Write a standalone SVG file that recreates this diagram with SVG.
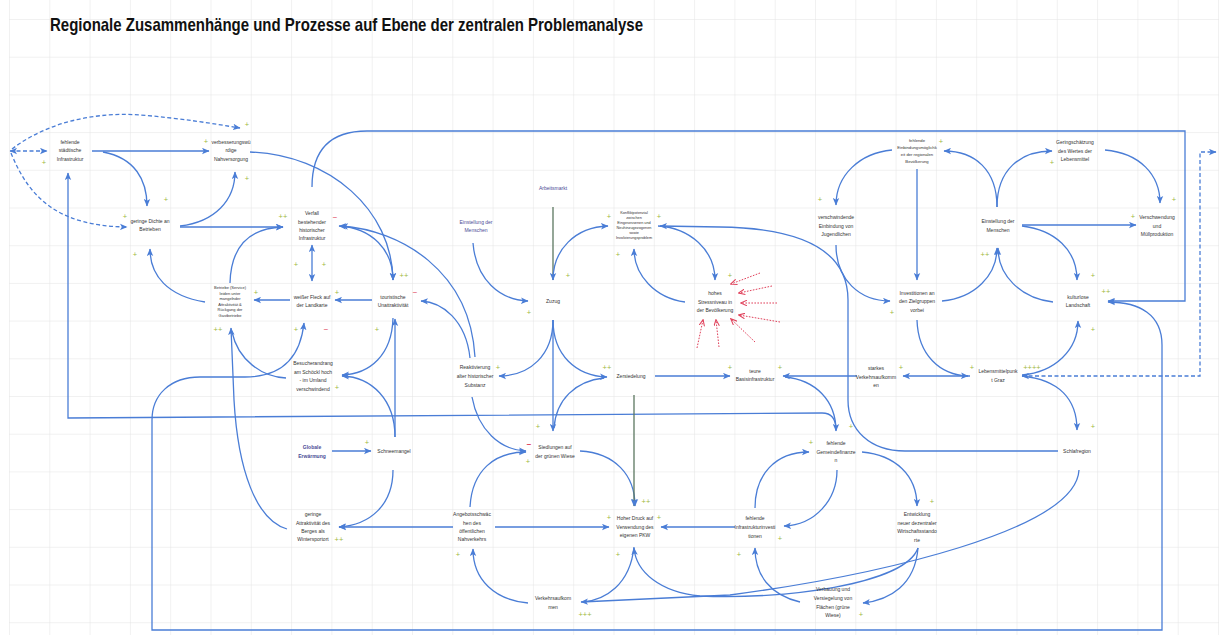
<svg xmlns="http://www.w3.org/2000/svg" width="1219" height="635" viewBox="0 0 1219 635">
<defs>
<pattern id="grid" x="9" y="19" width="40.3" height="37.7" patternUnits="userSpaceOnUse">
<path d="M0,0 V37.7 M0,0 H40.3" fill="none" stroke="#e3e3e3" stroke-width="1"/>
</pattern>
<marker id="a" viewBox="0 0 8 7" refX="7" refY="3.5" markerWidth="8" markerHeight="7" markerUnits="userSpaceOnUse" orient="auto-start-reverse">
<path d="M0,0.3 L7.5,3.5 L0,6.7 L1.8,3.5 z" fill="#4a7dd6"/>
</marker>
<marker id="ag" viewBox="0 0 8 7" refX="7" refY="3.5" markerWidth="8" markerHeight="7" markerUnits="userSpaceOnUse" orient="auto-start-reverse">
<path d="M0,0.3 L7.5,3.5 L0,6.7 L1.8,3.5 z" fill="#4a7dd6"/>
</marker>
<marker id="ar" viewBox="0 0 8 7" refX="7" refY="3.5" markerWidth="7" markerHeight="6" markerUnits="userSpaceOnUse" orient="auto">
<path d="M0,0.3 L7.5,3.5 L0,6.7" fill="none" stroke="#e0405a" stroke-width="1.2"/>
</marker>
</defs>
<style>
.c{fill:none;stroke:#4a7dd6;stroke-width:1.3;marker-end:url(#a)}
.n{fill:none;stroke:#4a7dd6;stroke-width:1.3}
.b{fill:none;stroke:#4a7dd6;stroke-width:1.3;marker-start:url(#a);marker-end:url(#a)}
.d{fill:none;stroke:#4a7dd6;stroke-width:1.3;stroke-dasharray:4 2.5;marker-end:url(#a)}
.g{fill:none;stroke:#5b7760;stroke-width:1.3;marker-end:url(#ag)}
.r{fill:none;stroke:#e0405a;stroke-width:1;stroke-dasharray:1.6 1.4;marker-end:url(#ar)}
text{font-family:"Liberation Sans",Arial,sans-serif}
.t{font-size:5px;fill:#333;text-anchor:middle}
.s{font-size:4px;fill:#333;text-anchor:middle}
.p{font-size:5px;fill:#4b4b96;text-anchor:middle}
.pl{font-size:7.5px;fill:#9fb83c;text-anchor:middle}
.mi{font-size:8px;fill:#e0405a;text-anchor:middle}
</style>
<rect x="0" y="0" width="1219" height="635" fill="#ffffff"/>
<rect x="9" y="0" width="1210" height="635" fill="url(#grid)"/>
<text x="50" y="31" font-size="19" font-weight="bold" fill="#111" textLength="593" lengthAdjust="spacingAndGlyphs">Regionale Zusammenhänge und Prozesse auf Ebene der zentralen Problemanalyse</text>

<g id="connectors">
<path class="c" d="M92,151 H209"/>
<path class="c" d="M103,152 C135,158 147,180 147,206"/>
<path class="c" d="M180,226 C215,222 235,200 235,172"/>
<path class="c" d="M180,227 H283"/>
<path class="c" d="M205,302 C168,296 150,276 150,249"/>
<path class="c" d="M230,283 C231,245 250,228 283,227"/>
<path class="c" d="M287,529 C256,520 238,470 234,400 L231,328"/>
<path class="n" d="M232,332 C238,360 262,377 286,378"/>
<path class="b" d="M304,323 C300,360 280,377 245,377 H200 C170,377 152,395 152,420 V630 H1162 V345 C1162,315 1140,302 1108,302"/>
<path class="b" d="M312,245 V281"/>
<path class="c" d="M290,300 H254"/>
<path class="c" d="M372,300 H335"/>
<path class="c" d="M250,152 C330,155 392,210 393,280"/>
<path class="b" d="M339,226 C372,228 393,250 393,280"/>
<path class="c" d="M475,357 C470,270 400,230 341,226"/>
<path class="c" d="M470,358 C466,320 442,302 421,301"/>
<path class="c" d="M312,187 C312,150 330,131 367,131 H1185 V301 H1108"/>
<path class="c" d="M393,318 C392,355 370,374 342,375"/>
<path class="c" d="M395,437 C395,400 372,377 342,376"/>
<path class="c" d="M395,437 V319"/>
<path class="c" d="M836,430 C836,420 832,413 822,413 L68,418 V173"/>
<path class="c" d="M785,377 C815,380 836,400 836,431"/>
<path class="c" d="M553,320 C553,355 530,376 499,376"/>
<path class="c" d="M553,320 C553,355 576,376 607,377"/>
<path class="c" d="M553,320 V431"/>
<path class="n" d="M604,378 C575,381 556,400 554,428"/>
<path class="g" d="M553,207 V280"/>
<path class="c" d="M473,243 C476,280 500,300 528,301"/>
<path class="c" d="M553,280 C553,250 575,227 608,226"/>
<path class="c" d="M685,302 C655,298 634,275 634,249"/>
<path class="c" d="M658,226 C690,228 715,250 715,280"/>
<path class="c" d="M1058,451 H905 C870,451 848,430 848,400 V300 C848,250 800,228 720,227 L660,226"/>
<path class="c" d="M655,376 H730"/>
<path class="c" d="M857,376 H783"/>
<path class="c" d="M970,376 H903"/>
<path class="c" d="M917,320 C918,355 940,375 968,376"/>
<path class="c" d="M1022,375 C1055,372 1078,350 1078,321"/>
<path class="c" d="M1022,376 C1060,380 1077,400 1077,430"/>
<path class="c" d="M942,301 C975,298 997,275 997,248"/>
<path class="c" d="M1053,302 C1020,298 998,275 998,248"/>
<path class="c" d="M997,207 C997,170 975,151 944,151"/>
<path class="c" d="M997,207 C997,170 1020,151 1052,151"/>
<path class="c" d="M1105,150 C1140,153 1160,175 1160,203"/>
<path class="c" d="M1022,225 H1136"/>
<path class="c" d="M1022,226 C1055,230 1077,250 1077,280"/>
<path class="c" d="M892,150 C860,153 836,175 836,205"/>
<path class="c" d="M917,169 V280"/>
<path class="c" d="M836,245 C836,280 860,301 890,301"/>
<path class="c" d="M862,452 C895,455 917,475 917,506"/>
<path class="c" d="M837,470 C837,500 815,525 784,526"/>
<path class="c" d="M755,508 C755,475 775,452 809,452"/>
<path class="c" d="M735,527 H661"/>
<path class="c" d="M495,527 H609"/>
<path class="c" d="M453,527 H339"/>
<path class="c" d="M393,470 C393,505 370,525 339,527"/>
<path class="c" d="M332,451 H371"/>
<path class="c" d="M528,603 C495,600 473,580 473,549"/>
<path class="c" d="M470,507 C472,470 495,452 526,452"/>
<path class="c" d="M472,397 C478,430 500,450 526,451"/>
<path class="c" d="M580,451 C615,453 635,475 635,506"/>
<path class="g" d="M634,395 V506"/>
<path class="c" d="M1079,470 C1076,530 880,575 730,595 L581,602"/>
<path class="c" d="M918,548 C905,585 780,600 700,596 C660,592 636,572 634,548"/>
<path class="n" d="M634,547 C630,585 605,600 583,602"/>
<path class="c" d="M918,548 C915,585 890,600 863,603"/>
<path class="c" d="M800,602 C770,595 755,575 755,548"/>
<path class="d" d="M10,151 H47" marker-start="url(#a)"/>
<path class="d" d="M12,149 C50,120 100,112 140,115 C180,118 215,124 240,128"/>
<path class="d" d="M11,153 C30,200 60,226 127,227"/>
<path class="d" d="M1022,376 H1200 V152 H1216" marker-start="url(#a)"/>
<path class="r" d="M760,273 L731,284"/>
<path class="r" d="M772,286 L739,293"/>
<path class="r" d="M777,303 L741,303"/>
<path class="r" d="M780,322 L739,315"/>
<path class="r" d="M755,342 L731,319"/>
<path class="r" d="M697,348 L703,320"/>
<path class="r" d="M719,347 L716,320"/>
</g>

<g id="n1"><text class="t"><tspan x="70" y="144">fehlende</tspan><tspan x="70" y="152">städtische</tspan><tspan x="70" y="160.5">Infrastruktur</tspan></text></g>
<g id="n2"><text class="t"><tspan x="231" y="144">verbesserungswü</tspan><tspan x="231" y="152">rdige</tspan><tspan x="231" y="161">Nahversorgung</tspan></text></g>
<g id="n3"><text class="t"><tspan x="150" y="223">geringe Dichte an</tspan><tspan x="150" y="231">Betrieben</tspan></text></g>
<g id="n4"><text class="s"><tspan x="230" y="289">Betriebe (Service)</tspan><tspan x="230" y="294.5">leiden unter</tspan><tspan x="230" y="300">mangelnder</tspan><tspan x="230" y="305.5">Attraktivität &amp;</tspan><tspan x="230" y="311">Rückgang der</tspan><tspan x="230" y="316.5">Gastbetriebe</tspan></text></g>
<g id="n5"><text class="t"><tspan x="312" y="215">Verfall</tspan><tspan x="312" y="223.5">bestehender</tspan><tspan x="312" y="232">historischer</tspan><tspan x="312" y="240">Infrastruktur</tspan></text></g>
<g id="n6"><text class="t"><tspan x="312" y="299">weißer Fleck auf</tspan><tspan x="312" y="307">der Landkarte</tspan></text></g>
<g id="n7"><text class="t"><tspan x="393" y="299">touristische</tspan><tspan x="393" y="307">Unattraktivität</tspan></text></g>
<g id="n8"><text class="t"><tspan x="313" y="365">Besucherandrang</tspan><tspan x="313" y="374">am Schöckl hoch</tspan><tspan x="313" y="382">- im Umland</tspan><tspan x="313" y="391">verschwindend</tspan></text></g>
<g id="n9"><text class="p"><tspan x="476" y="224">Einstellung der</tspan><tspan x="476" y="232">Menschen</tspan></text></g>
<g id="n10"><text class="p" x="553" y="190">Arbeitsmarkt</text></g>
<g id="n11"><text class="s" style="font-size:3.8px"><tspan x="634" y="214">Konfliktpotenzial</tspan><tspan x="634" y="219">zwischen</tspan><tspan x="634" y="224">Eingesessenen und</tspan><tspan x="634" y="229">Neuhinzugezogenen</tspan><tspan x="634" y="234">sowie</tspan><tspan x="634" y="239">Involvierungsproblem</tspan></text></g>
<g id="n12"><text class="t" x="553" y="303">Zuzug</text></g>
<g id="n13"><text class="t"><tspan x="715" y="295">hohes</tspan><tspan x="715" y="304">Stressniveau in</tspan><tspan x="715" y="312">der Bevölkerung</tspan></text></g>
<g id="n15"><text class="t"><tspan x="475" y="369">Reaktivierung</tspan><tspan x="475" y="378">alter historischer</tspan><tspan x="475" y="387">Substanz</tspan></text></g>
<g id="n16"><text class="t" x="631" y="378">Zersiedelung</text></g>
<g id="n17"><text class="t"><tspan x="755" y="373">teure</tspan><tspan x="755" y="381">Basisinfrastruktur</tspan></text></g>
<g id="n18"><text class="t"><tspan x="876" y="370">starkes</tspan><tspan x="876" y="378.5">Verkehrsaufkomm</tspan><tspan x="876" y="387">en</tspan></text></g>
<g id="n19"><text class="t"><tspan x="998" y="373">Lebensmittelpunk</tspan><tspan x="998" y="382">t Graz</tspan></text></g>
<g id="n20"><text class="t" x="1077" y="453">Schlafregion</text></g>
<g id="n21"><text class="t"><tspan x="836" y="445">fehlende</tspan><tspan x="836" y="454">Gemeindefinanze</tspan><tspan x="836" y="462">n</tspan></text></g>
<g id="n22"><text class="t"><tspan x="755" y="520">fehlende</tspan><tspan x="755" y="529">Infrastrukturinvesti</tspan><tspan x="755" y="538">tionen</tspan></text></g>
<g id="n23"><text class="t"><tspan x="917" y="516">Entwicklung</tspan><tspan x="917" y="525">neuer dezentraler</tspan><tspan x="917" y="533">Wirtschaftsstando</tspan><tspan x="917" y="542">rte</tspan></text></g>
<g id="n24"><text class="t"><tspan x="833" y="591">Verbauung und</tspan><tspan x="833" y="600">Versiegelung von</tspan><tspan x="833" y="609">Flächen (grüne</tspan><tspan x="833" y="617">Wiese)</tspan></text></g>
<g id="n25"><text class="t"><tspan x="635" y="520">Hoher Druck auf</tspan><tspan x="635" y="529">Verwendung des</tspan><tspan x="635" y="537">eigenen PKW</tspan></text></g>
<g id="n26"><text class="t"><tspan x="555" y="449">Siedlungen auf</tspan><tspan x="555" y="458">der grünen Wiese</tspan></text></g>
<g id="n27"><text class="t"><tspan x="472" y="516">Angebotsschwäc</tspan><tspan x="472" y="525">hen des</tspan><tspan x="472" y="533">öffentlichen</tspan><tspan x="472" y="541">Nahverkehrs</tspan></text></g>
<g id="n28"><text class="t"><tspan x="553" y="600">Verkehrsaufkom</tspan><tspan x="553" y="609">men</tspan></text></g>
<g id="n29"><text class="p" style="font-weight:bold"><tspan x="312" y="449">Globale</tspan><tspan x="312" y="458">Erwärmung</tspan></text></g>
<g id="n30"><text class="t" x="394" y="453">Schneemangel</text></g>
<g id="n31"><text class="t"><tspan x="313" y="516">geringe</tspan><tspan x="313" y="525">Attraktivität des</tspan><tspan x="313" y="533">Berges als</tspan><tspan x="313" y="541">Wintersportort</tspan></text></g>
<g id="n32"><text class="s" style="font-size:4.2px"><tspan x="917" y="142">fehlende</tspan><tspan x="917" y="149">Einbindungsmöglichk</tspan><tspan x="917" y="155.5">eit der regionalen</tspan><tspan x="917" y="162.5">Bevölkerung</tspan></text></g>
<g id="n33"><text class="t"><tspan x="1075" y="144">Geringschätzung</tspan><tspan x="1075" y="153">des Wertes der</tspan><tspan x="1075" y="161">Lebensmittel</tspan></text></g>
<g id="n34"><text class="t"><tspan x="836" y="219">verschwindende</tspan><tspan x="836" y="228">Einbindung von</tspan><tspan x="836" y="236">Jugendlichen</tspan></text></g>
<g id="n35"><text class="t"><tspan x="998" y="223">Einstellung der</tspan><tspan x="998" y="232">Menschen</tspan></text></g>
<g id="n36"><text class="t"><tspan x="1157" y="219">Verschwendung</tspan><tspan x="1157" y="228">und</tspan><tspan x="1157" y="236">Müllproduktion</tspan></text></g>
<g id="n37"><text class="t"><tspan x="917" y="295">Investitionen an</tspan><tspan x="917" y="303">den Zielgruppen</tspan><tspan x="917" y="312">vorbei</tspan></text></g>
<g id="n38"><text class="t"><tspan x="1078" y="299">kulturlose</tspan><tspan x="1078" y="307">Landschaft</tspan></text></g>

<g id="signs">
<text class="pl" x="247" y="126.5">+</text>
<text class="pl" x="206" y="143.5">+</text>
<text class="pl" x="44" y="164.5">+</text>
<text class="pl" x="247" y="180.5">+</text>
<text class="pl" x="166" y="201.5">+</text>
<text class="pl" x="125" y="218.5">+</text>
<text class="pl" x="135" y="256.5">+</text>
<text class="pl" x="218" y="331.5">++</text>
<text class="pl" x="283" y="218.5">++</text>
<text class="mi" x="335" y="219.5">−</text>
<text class="pl" x="296" y="266.5">+</text>
<text class="pl" x="324" y="266.5">+</text>
<text class="pl" x="404" y="277.5">++</text>
<text class="pl" x="256" y="294.5">+</text>
<text class="pl" x="337" y="294.5">+</text>
<text class="mi" x="415" y="294.5">−</text>
<text class="pl" x="296" y="331.5">+</text>
<text class="mi" x="326" y="331.5">−</text>
<text class="pl" x="377" y="331.5">+</text>
<text class="pl" x="337" y="389.5">+</text>
<text class="pl" x="367" y="444.5">+</text>
<text class="pl" x="339" y="541.5">++</text>
<text class="pl" x="458" y="556.5">+</text>
<text class="pl" x="609" y="218.5">+</text>
<text class="pl" x="659" y="218.5">+</text>
<text class="pl" x="618" y="256.5">+</text>
<text class="pl" x="568" y="277.5">+</text>
<text class="pl" x="529" y="314.5">+</text>
<text class="pl" x="498" y="369.5">+</text>
<text class="pl" x="607" y="369.5">++</text>
<text class="pl" x="730" y="277.5">+</text>
<text class="pl" x="820" y="201.5">+</text>
<text class="pl" x="941" y="143.5">+</text>
<text class="pl" x="892" y="314.5">+</text>
<text class="pl" x="730" y="369.5">+</text>
<text class="pl" x="780" y="369.5">+</text>
<text class="pl" x="901" y="369.5">+</text>
<text class="pl" x="1052" y="164.5">+</text>
<text class="pl" x="1174" y="201.5">+</text>
<text class="pl" x="1133" y="218.5">+</text>
<text class="pl" x="985" y="256.5">++</text>
<text class="pl" x="1093" y="277.5">+</text>
<text class="pl" x="1106" y="293.5">++</text>
<text class="pl" x="1093" y="331.5">+</text>
<text class="pl" x="972" y="369.5">+</text>
<text class="pl" x="1032" y="369.5">++++</text>
<text class="pl" x="538" y="428.5">+</text>
<text class="mi" x="529" y="446.5" style="font-weight:bold">−</text>
<text class="pl" x="528" y="463.5">+</text>
<text class="pl" x="646" y="503.5">++</text>
<text class="pl" x="609" y="519.5">+</text>
<text class="pl" x="659" y="519.5">+</text>
<text class="pl" x="618" y="556.5">+</text>
<text class="pl" x="585" y="616.5">+++</text>
<text class="pl" x="851" y="428.5">+</text>
<text class="pl" x="811" y="444.5">+</text>
<text class="pl" x="932" y="503.5">+</text>
<text class="pl" x="780" y="540.5">+</text>
<text class="pl" x="739" y="556.5">+</text>
<text class="pl" x="861" y="616.5">+</text>
<text class="pl" x="1093" y="428.5">+</text>
</g>
</svg>
